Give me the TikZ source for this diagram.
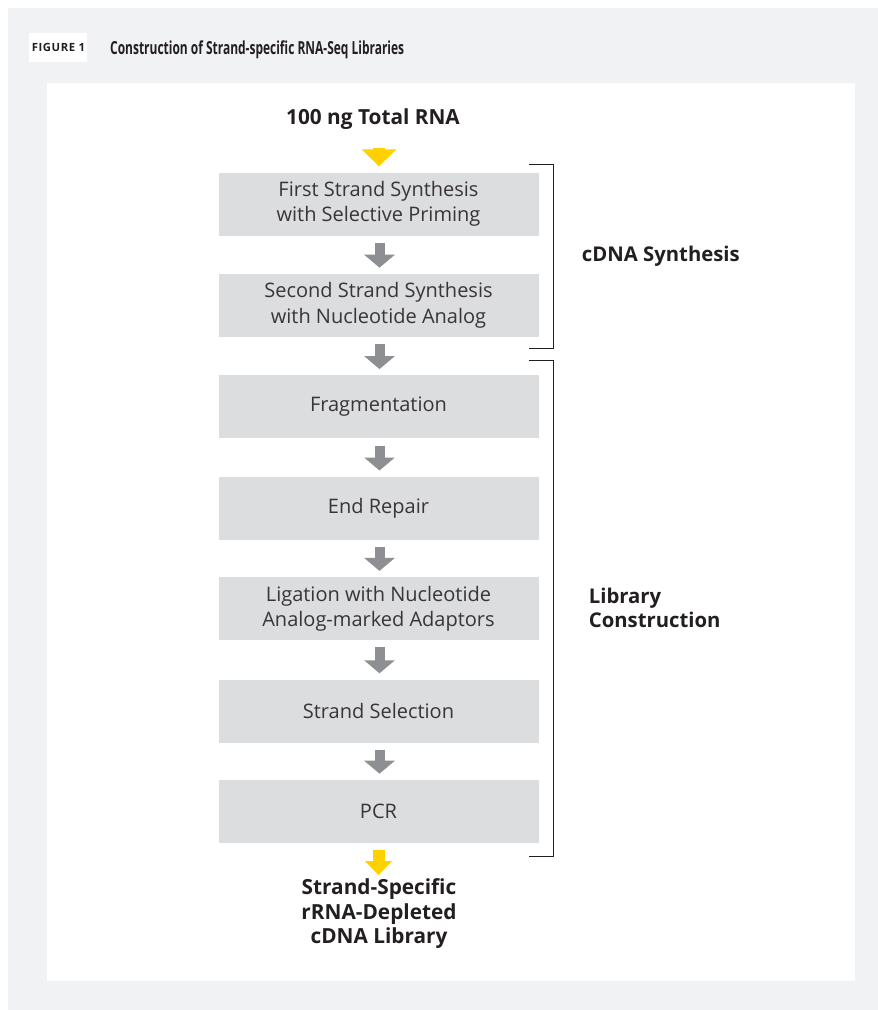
\documentclass[tikz,border=0pt]{standalone}
\usepackage{fontspec}
\setmainfont{Open Sans}
\newfontfamily\titlefont[FakeStretch=0.665]{Open Sans Bold}
\newfontfamily\tagfont[LetterSpace=5]{Open Sans Bold}
\usetikzlibrary{calc,positioning,arrows.meta}

\definecolor{panelgray}{HTML}{F1F2F4}
\definecolor{boxgray}{HTML}{DCDDDF}
\definecolor{arrowgray}{HTML}{8E8F92}
\definecolor{flowyellow}{HTML}{FFD100}
\definecolor{inkdark}{HTML}{231F20}

\tikzset{
  stepbox/.style={fill=boxgray, minimum width=320pt, minimum height=63pt,
    align=center, text=inkdark!90, inner sep=0pt,
    font=\fontsize{20}{25.5}\selectfont},
  boldtext/.style={align=center, text=inkdark, inner sep=0pt,
    font=\bfseries\fontsize{20.8}{24.5}\selectfont},
  grayflow/.style={arrowgray, line width=10pt,
    -{Triangle[length=13pt 0 0, width=30pt 0 0]}},
  yellowflow/.style={flowyellow, line width=12pt,
    -{Triangle[length=17pt 0 0, width=34pt 0 0]}},
  bracket/.style={inkdark, line width=1.2pt},
}

\begin{document}
\begin{tikzpicture}[x=1pt, y=1pt]

  % --- Page and panels ---
  \useasboundingbox (0,0) rectangle (878,-1010);
  \fill[white] (0,0) rectangle (878,-1010);
  \fill[panelgray] (8,-8) rectangle (878,-1010);
  \fill[white] (47,-83) rectangle (855,-981);

  % --- Heading ---
  \fill[white] (29,-33) rectangle (87,-62);
  \node[text=inkdark, inner sep=0pt] (tag) at (58.5,-47.5)
    {\tagfont\fontsize{11.3}{12}\selectfont FIGURE 1};
  \node[anchor=base west, text=inkdark, inner sep=0pt] (title) at (110,-54)
    {\titlefont\fontsize{18}{20}\selectfont Construction of Strand-specific RNA-Seq Libraries};

  % --- Input ---
  \node[boldtext] (rna) at (373,-119) {100 ng Total RNA};

  % --- Process steps ---
  \node[stepbox] (first) at (378.5,-204)
    {First Strand Synthesis\\with Selective Priming};
  \node[stepbox, below=38pt of first] (second)
    {Second Strand Synthesis\\with Nucleotide Analog};
  \node[stepbox, below=38pt of second] (frag) {Fragmentation};
  \node[stepbox, below=38pt of frag] (repair) {End Repair};
  \node[stepbox, below=37pt of repair] (ligation)
    {Ligation with Nucleotide\\Analog-marked Adaptors};
  \node[stepbox, below=39pt of ligation] (select) {Strand Selection};
  \node[stepbox, below=37pt of select] (pcr) {PCR};

  % --- Output ---
  \node[boldtext] (lib) at (379,-914)
    {Strand-Specific\\rRNA-Depleted\\cDNA Library};

  % --- Arrows between steps ---
  \draw[yellowflow] ([shift={(6,-18)}]rna.south) -- ([shift={(0.5,6)}]first.north);
  \foreach \a/\b in {first/second, second/frag, frag/repair,
                     repair/ligation, ligation/select, select/pcr}
    \draw[grayflow] ([shift={(1,-7)}]\a.south) -- ([shift={(1,6)}]\b.north);
  \draw[yellowflow, line width=12pt,
        -{Triangle[length=14pt 0 0, width=26pt 0 0]}]
    ([yshift=-7]pcr.south) -- ([yshift=-32]pcr.south);

  % --- Brackets ---
  \coordinate (cTop) at ($(first.north east)+(-10,8)$);
  \coordinate (cBot) at ($(second.south east)+(-10,-11)$);
  \draw[bracket] (cTop) -- ++(25,0) |- (cBot);
  \coordinate (lTop) at ($(frag.north east)+(-10,15)$);
  \coordinate (lBot) at ($(pcr.south east)+(-10,-13)$);
  \draw[bracket] (lTop) -- ++(25,0) |- (lBot);

  % --- Stage labels ---
  \node[boldtext, anchor=west, font=\bfseries\fontsize{20.3}{24.5}\selectfont] (cdna)
    at ($(cTop)!0.5!(cBot)+(53,0)$) {cDNA Synthesis};
  \node[boldtext, anchor=west, align=left, font=\bfseries\fontsize{20.3}{24.5}\selectfont] (libcon)
    at ($(lTop)!0.5!(lBot)+(60,0)$) {Library\\Construction};

\end{tikzpicture}
\end{document}
